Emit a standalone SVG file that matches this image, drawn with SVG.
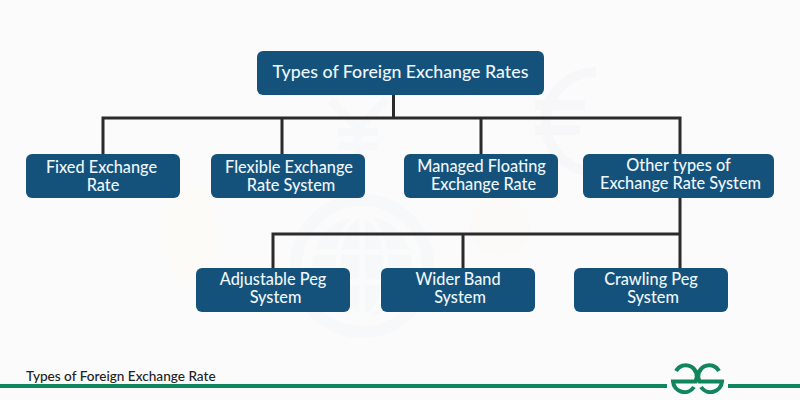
<svg xmlns="http://www.w3.org/2000/svg" width="800" height="400" viewBox="0 0 800 400">
<style>
.n{fill:#14527c}
.t{font-family:"Lato","Noto Sans",sans-serif;font-weight:500;font-size:16.300px;fill:#eef6fa;text-anchor:middle}
.c{stroke:#2b2b2b;stroke-width:3;fill:none}
</style>
<rect width="800" height="400" fill="#fbfbfb"/>
<g id="watermark">
<circle cx="362" cy="266" r="66" fill="none" stroke="#f7f8f9" stroke-width="12"/>
<circle cx="362" cy="266" r="50" fill="#f7f8f9"/>
<ellipse cx="362" cy="266" rx="24" ry="50" fill="none" stroke="#fbfbfb" stroke-width="5"/>
<path d="M362 216V316M312 252H412M312 282H412" fill="none" stroke="#fbfbfb" stroke-width="5"/>
<path d="M330 100L358 128L386 100M358 128V178M338 132H378M338 146H378" fill="none" stroke="#f7f8f9" stroke-width="8"/>
<path d="M596 72A48 48 0 1 0 596 172M535 105H585M535 130H580" fill="none" stroke="#f7f7f9" stroke-width="10"/>
<ellipse cx="190" cy="235" rx="28" ry="50" fill="#fcfbf8"/>
<ellipse cx="500" cy="225" rx="30" ry="30" fill="#fcfaf9"/>
</g>
<g id="connectors">
<path class="c" d="M393.500 95V118M103 154V118H680V154M282 118V154M481 118V154"/>
<path class="c" d="M680 198V234H273V268M463 234V268M680 234V268"/>
</g>
<g id="root"><rect class="n" x="257" y="51" width="287" height="44" rx="6"/><text class="t" x="400.500" y="78" style="font-size:17.800px">Types of Foreign Exchange Rates</text></g>
<g id="fixed"><rect class="n" x="26" y="154" width="154" height="44" rx="6"/><text class="t" x="101.500" y="173">Fixed Exchange</text><text class="t" x="103" y="191">Rate</text></g>
<g id="flexible"><rect class="n" x="211" y="154" width="154" height="44" rx="6"/><text class="t" x="289" y="173">Flexible Exchange</text><text class="t" x="291" y="191">Rate System</text></g>
<g id="managed"><rect class="n" x="404" y="154" width="154" height="44" rx="6"/><text class="t" x="481.500" y="172">Managed Floating</text><text class="t" x="483.500" y="190">Exchange Rate</text></g>
<g id="other"><rect class="n" x="583" y="154" width="191" height="44" rx="6"/><text class="t" x="678.500" y="171">Other types of</text><text class="t" x="680.500" y="189">Exchange Rate System</text></g>
<g id="adjustable"><rect class="n" x="196" y="268" width="154" height="44" rx="6"/><text class="t" x="273" y="285">Adjustable Peg</text><text class="t" x="275.500" y="303">System</text></g>
<g id="wider"><rect class="n" x="381" y="268" width="154" height="44" rx="6"/><text class="t" x="458" y="285">Wider Band</text><text class="t" x="460" y="303">System</text></g>
<g id="crawling"><rect class="n" x="574" y="268" width="154" height="44" rx="6"/><text class="t" x="651" y="285">Crawling Peg</text><text class="t" x="653" y="303">System</text></g>
<g id="footer">
<rect x="0" y="384" width="667" height="4" fill="#11865c"/>
<rect x="728" y="384" width="72" height="4" fill="#11865c"/>
<text x="26" y="381" style="font-family:Lato,'Noto Sans',sans-serif;font-size:13.600px;font-weight:500;fill:#222">Types of Foreign Exchange Rate</text>
<path d="M676 371A11 11 0 0 1 695.500 381.500H673A11.500 11.500 0 0 0 694 387M719 371A11 11 0 0 0 699.500 381.500H722A11.500 11.500 0 0 1 701 387" fill="none" stroke="#11865c" stroke-width="4"/>
</g>
</svg>
